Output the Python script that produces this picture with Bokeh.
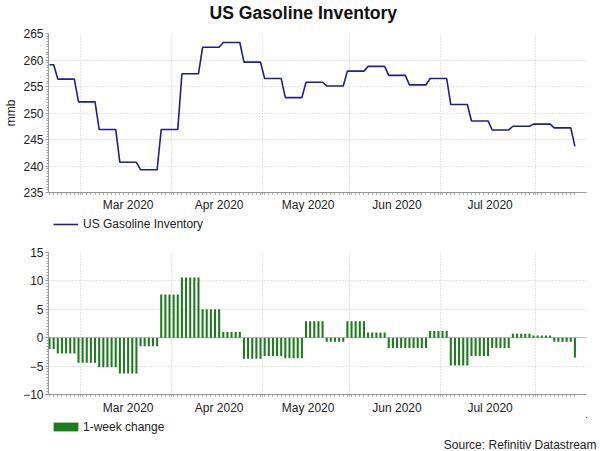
import numpy as np
import pandas as pd
from bokeh.plotting import figure
from bokeh.layouts import column
from bokeh.models import (ColumnDataSource, FixedTicker, Range1d, Label, Title,
                          Legend, LegendItem, Span)
from bokeh.embed import file_html
from bokeh.resources import INLINE

# ---------------- data (weekly, week ending Friday) ----------------
week_ending = ["2020-02-14", "2020-02-21", "2020-02-28", "2020-03-06", "2020-03-13",
               "2020-03-20", "2020-03-27", "2020-04-03", "2020-04-10", "2020-04-17",
               "2020-04-24", "2020-05-01", "2020-05-08", "2020-05-15", "2020-05-22",
               "2020-05-29", "2020-06-05", "2020-06-12", "2020-06-19", "2020-06-26",
               "2020-07-03", "2020-07-10", "2020-07-17", "2020-07-24", "2020-07-31",
               "2020-08-07", "2020-08-14"]
inventory_mmb = [259.1, 256.4, 252.1, 246.9, 240.7, 239.3, 246.9, 257.4, 262.4, 263.3,
                 259.6, 256.5, 252.9, 255.8, 255.1, 257.9, 258.8, 257.1, 255.3, 256.5,
                 251.6, 248.5, 246.8, 247.5, 247.9, 247.2, 243.7]
weekly_change = [-2.0, -2.8, -4.4, -5.2, -6.3, -1.5, 7.6, 10.6, 5.0, 1.0,
                 -3.7, -3.2, -3.6, 2.9, -0.7, 2.9, 0.9, -1.8, -1.8, 1.2,
                 -4.9, -3.2, -1.8, 0.7, 0.4, -0.7, -3.5]
first_day = "2020-02-19"
last_day = "2020-08-14"
month_labels = ["Mar 2020", "Apr 2020", "May 2020", "Jun 2020", "Jul 2020"]
top_ticks = [235, 240, 245, 250, 255, 260, 265]
bottom_ticks = [-10, -5, 0, 5, 10, 15]

# daily (business-day) series, weekly values carried forward
days = pd.bdate_range(first_day, last_day)
wk = pd.to_datetime(week_ending)
inv_daily = pd.Series(inventory_mmb, index=wk).reindex(days, method="ffill")
chg_daily = pd.Series(weekly_change, index=wk).reindex(days, method="ffill")
xi = np.arange(len(days))
src = ColumnDataSource(dict(x=xi, inv=inv_daily.values, chg=chg_daily.values))

month_starts = [i for i in range(1, len(days)) if days[i].month != days[i - 1].month]
label_pos = [(a + b) / 2 for a, b in zip(month_starts[:-1], month_starts[1:])]

FONT = "Liberation Sans"
TXT = "#222222"
AX = "#9a9a9a"
GRID = "#c8c8c8"
LINE_C = "#1f1f8c"
BAR_C = "#1e7a1e"
W = 600
BL, BR = 48, 14   # left / right borders -> frame 48..586

x_range = Range1d(-0.25, 129.8)


def style(p, yticks, ystep, label_standoff):
    p.outline_line_color = None
    # month names centred in each month; small ticks on every day and month boundary
    p.xaxis.ticker = FixedTicker(ticks=label_pos,
                                 minor_ticks=[float(v) for v in xi] + [m - 0.5 for m in month_starts])
    p.xaxis.major_label_overrides = {pos: txt for pos, txt in zip(label_pos, month_labels)}
    p.xaxis.major_label_text_font = FONT
    p.xaxis.major_label_text_font_size = "12px"
    p.xaxis.major_label_text_color = TXT
    p.xaxis.major_tick_line_color = None
    p.xaxis.major_tick_out = 0
    p.xaxis.major_tick_in = 0
    p.xaxis.minor_tick_out = 2
    p.xaxis.minor_tick_in = 0
    p.xaxis.major_label_standoff = label_standoff
    minor = [float(v) for v in np.arange(yticks[0], yticks[-1] + 0.01, ystep)]
    p.yaxis.ticker = FixedTicker(ticks=yticks, minor_ticks=minor)
    p.yaxis.major_label_text_font = FONT
    p.yaxis.major_label_text_font_size = "12px"
    p.yaxis.major_label_text_color = TXT
    p.yaxis.major_tick_out = 3
    p.yaxis.major_tick_in = 0
    p.yaxis.minor_tick_out = 2
    p.yaxis.minor_tick_in = 0
    p.yaxis.major_label_standoff = 2
    p.yaxis.major_tick_line_color = AX
    for ax in (p.xaxis, p.yaxis):
        ax.axis_line_color = AX
        ax.minor_tick_line_color = AX
    p.xgrid.ticker = FixedTicker(ticks=[m - 0.5 for m in month_starts])
    p.grid.grid_line_color = GRID
    p.grid.grid_line_dash = "1 2"


def text_fig(h, bottom=0):
    f = figure(width=W, height=h, x_range=Range1d(-1000, -900), y_range=Range1d(-1000, -900),
               x_axis_type=None, y_axis_type=None, output_backend="svg",
               toolbar_location=None, min_border_left=BL, min_border_right=BR,
               min_border_top=0, min_border_bottom=bottom)
    f.outline_line_color = None
    f.grid.visible = False
    return f


# ---------------- header (title) ----------------
hdr = text_fig(26)
hdr.add_layout(Label(x=302.8 - BL, y=14, x_units="screen", y_units="screen",
                     text="US Gasoline Inventory", text_align="center", text_baseline="middle",
                     text_font=FONT, text_font_size="17.6px", text_font_style="bold",
                     text_color="#111111"))

# ---------------- top panel ----------------
p1 = figure(width=W, height=188, x_range=x_range, y_range=Range1d(235, 265),
            output_backend="svg", toolbar_location=None,
            min_border_left=BL, min_border_right=BR, min_border_top=7, min_border_bottom=21)
style(p1, top_ticks, 0.5, 3)
p1.yaxis.axis_label = "mmb"
p1.yaxis.axis_label_standoff = 2
p1.yaxis.axis_label_text_font = FONT
p1.yaxis.axis_label_text_font_size = "12px"
p1.yaxis.axis_label_text_font_style = "normal"
p1.yaxis.axis_label_text_color = TXT
p1.line(x="x", y="inv", source=src, line_color=LINE_C, line_width=1.6)

# ---------------- legend row for top panel ----------------
mid = text_fig(30)
r_leg_line = mid.line(x="x", y="inv", source=src, line_color=LINE_C, line_width=1.6)
leg1 = Legend(items=[LegendItem(label="US Gasoline Inventory", renderers=[r_leg_line])],
              location=(53 - BL, 13.5), padding=0, margin=0, spacing=0,
              glyph_width=25, glyph_height=12, label_height=12, label_standoff=5,
              label_text_font=FONT, label_text_font_size="12px", label_text_color=TXT,
              border_line_alpha=0, background_fill_alpha=0)
mid.add_layout(leg1)

# ---------------- bottom panel ----------------
p2 = figure(width=W, height=173, x_range=x_range, y_range=Range1d(-10, 15),
            output_backend="svg", toolbar_location=None,
            min_border_left=BL, min_border_right=BR, min_border_top=8, min_border_bottom=21)
style(p2, bottom_ticks, 0.5, 4)
p2.add_layout(Span(location=0, dimension="width", line_color="#b8b8b8", line_width=1,
                   level="underlay"))
p2.vbar(x="x", top="chg", width=0.5, source=src, fill_color=BAR_C, line_color=None)

# ---------------- footer: legend + source ----------------
ftr = text_fig(34, bottom=15)
icon = ftr.vbar(x="x", top="chg", width=0.5, source=src, fill_color=BAR_C, line_color=None)
leg2 = Legend(items=[LegendItem(label="1-week change", renderers=[icon])],
              location=(50 - BL, 1.5), padding=0, margin=0, spacing=0,
              glyph_width=31, glyph_height=11, label_height=12, label_standoff=2,
              label_text_font=FONT, label_text_font_size="12px", label_text_color=TXT,
              border_line_alpha=0, background_fill_alpha=0)
ftr.add_layout(leg2)
ftr.add_layout(Title(text="Source: Refinitiv Datastream", align="right", offset=-10,
                     standoff=0, text_font=FONT, text_font_size="12px",
                     text_font_style="normal", text_color=TXT), "below")

layout = column(hdr, p1, mid, p2, ftr, spacing=0)
open("out.html", "w").write(file_html(layout, INLINE))
